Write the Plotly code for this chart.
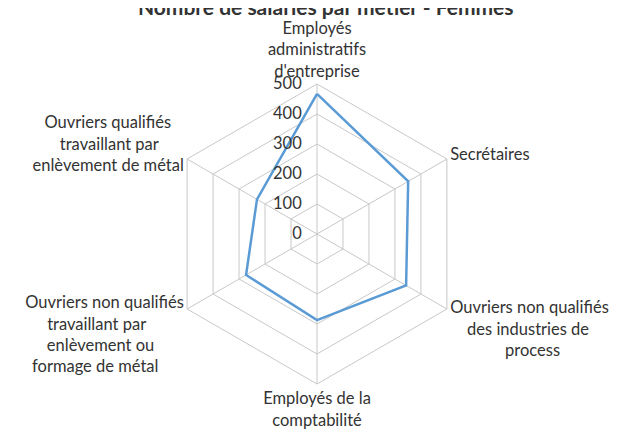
import plotly.graph_objects as go

NB = "\u00a0"  # non-breaking space, used to center the lines of side labels

categories = ["Employés<br>administratifs<br>d'entreprise",
              "Secrétaires",
              "Ouvriers non qualifiés<br>" + NB * 4 + "des industries de<br>" + NB * 13 + "process",
              "Employés de la<br>comptabilité",
              "Ouvriers non qualifiés<br>travaillant par" + NB * 9 + "<br>enlèvement ou" + NB * 7
              + "<br>formage de métal" + NB * 6,
              "Ouvriers qualifiés" + NB * 3 + "<br>travaillant par" + NB * 6 + "<br>enlèvement de métal"]
femmes = [467, 351, 343, 287, 273, 231]
tick_vals = [0, 100, 200, 300, 400, 500]

fig = go.Figure()
fig.add_trace(go.Scatterpolar(
    r=femmes + femmes[:1],
    theta=categories + categories[:1],
    mode="lines",
    line=dict(color="#5B9BD5", width=2.5),
    name="Femmes",
    showlegend=False,
))

fig.update_layout(
    width=623, height=432,
    paper_bgcolor="white",
    font=dict(family="Lato, Open Sans, sans-serif", size=16.5, color="#333333"),
    title=dict(text="<b>Nombre de salariés par métier - Femmes</b>",
               x=0.51, xanchor="center", y=1.0, yanchor="middle",
               font=dict(size=21, color="#333333")),
    margin=dict(l=159, r=164, t=76, b=56),
    polar=dict(
        bgcolor="white",
        gridshape="linear",
        angularaxis=dict(rotation=90, direction="clockwise",
                         linecolor="#C8C8C8", gridcolor="#C8C8C8",
                         showline=True, ticks=""),
        radialaxis=dict(range=[0, 500], tickvals=tick_vals, angle=90,
                        tickangle=90, side="counterclockwise",
                        ticks="outside", ticklen=9, tickcolor="rgba(0,0,0,0)",
                        showline=False, gridcolor="#C8C8C8",
                        tickfont=dict(size=16.5, color="#333333")),
    ),
)

fig.write_html("out.html")
